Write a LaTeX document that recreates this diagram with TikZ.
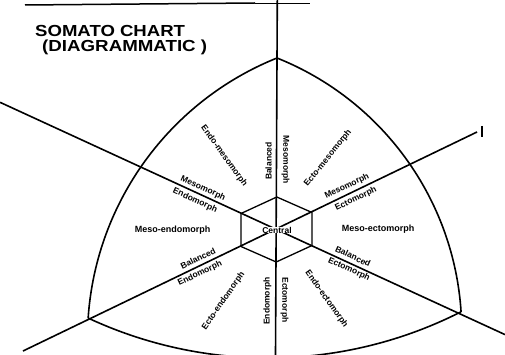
\documentclass[tikz,border=0pt]{standalone}
\usepackage{fontspec}
\setmainfont{Liberation Sans}
\begin{document}
\begin{tikzpicture}[x=1pt,y=-1pt,
  axis/.style={line width=1.6pt},
  rim/.style={line width=1.6pt},
  hexline/.style={line width=1.3pt},
  lab/.style={font=\fontsize{8.5}{9}\selectfont\bfseries, inner sep=0.3pt},
  hlab/.style={font=\fontsize{9}{10}\selectfont\bfseries, inner sep=0.3pt},
  ttl/.style={font=\fontsize{16}{18}\selectfont\bfseries, anchor=west, inner sep=0pt}]
\useasboundingbox (0,0) rectangle (505,355);
% scan edge line at top
\coordinate (e1) at (25,5);
\coordinate (e2) at (255,3);
\coordinate (e3) at (310,3);
\draw[line width=1.5pt] (e1) -- (e2);
\draw[line width=0.6pt] (e2) -- (e3);
% axes
\coordinate (vt) at (277.3,0);
\coordinate (vb) at (275.5,355);
\coordinate (l1a) at (0,102.3);
\coordinate (l1b) at (505,334.6);
\coordinate (l2a) at (23,351);
\coordinate (l2b) at (477,132);
\draw[axis] (vt) -- (vb);
\draw[axis] (l1a) -- (l1b);
\draw[axis] (l2a) -- (l2b);
% tick at end
\coordinate (t1) at (482,126);
\coordinate (t2) at (482,137);
\draw[line width=1.2pt] (t1) -- (t2);
% Reuleaux-like outline
\coordinate (top) at (277,58);
\coordinate (bl) at (88,318);
\coordinate (br) at (461,312);
\draw[rim] (top) arc[start angle=248.1, end angle=183.9, radius=302.3];
\draw[rim] (top) arc[start angle=-68.2, end angle=-3.7, radius=293.8];
\draw[rim] (bl) arc[start angle=115.0, end angle=63.1, radius=426.3];
% hexagon
\coordinate (h1) at (276.8,197);
\coordinate (h2) at (312,212.5);
\coordinate (h3) at (312,245.5);
\coordinate (h4) at (276.2,262);
\coordinate (h5) at (241,246.5);
\coordinate (h6) at (241,213.5);
\draw[hexline] (h1) -- (h2) -- (h3) -- (h4) -- (h5) -- (h6) -- cycle;
\node[lab, fill=white] (central) at (277,230) {Central};
% vertical axis labels
\node[lab, rotate=90] (balT) at (268.5,161) {Balanced};
\node[lab, rotate=-90] (mesT) at (285.5,160) {Mesomorph};
\node[lab, rotate=90] (endB) at (267.5,301) {Endomorph};
\node[lab, rotate=-90] (ectB) at (284.5,300) {Ectomorph};
% labels along line 1 (upper left)
\node[lab, rotate=-24.7] (mesUL) at (203,188.5) {Mesomorph};
\node[lab, rotate=-24.7] (endUL) at (195,200.5) {Endomorph};
% labels along line 2 (upper right)
\node[lab, rotate=25.7] (mesUR) at (347,186.5) {Mesomorph};
\node[lab, rotate=25.7] (ectUR) at (356,199) {Ectomorph};
% labels along line 2 (lower left)
\node[lab, rotate=25.7] (balLL) at (198,258.5) {Balanced};
\node[lab, rotate=25.7] (endLL) at (200,273.5) {Endomorph};
% labels along line 1 (lower right)
\node[lab, rotate=-24.7] (balLR) at (353,256.5) {Balanced};
\node[lab, rotate=-24.7] (ectLR) at (349,269.5) {Ectomorph};
% sector labels
\node[lab, rotate=-54] (s1) at (224,156) {Endo-mesomorph};
\node[lab, rotate=51] (s2) at (328,158) {Ecto-mesomorph};
\node[hlab] (s3) at (172.5,230.5) {Meso-endomorph};
\node[hlab] (s4) at (378,229) {Meso-ectomorph};
\node[lab, rotate=55] (s5) at (223.5,301) {Ecto-endomorph};
\node[lab, rotate=-55] (s6) at (326.5,299) {Endo-ectomorph};
% title
\node[ttl] (title1) at (35,31) {\scalebox{1.16}[1]{SOMATO CHART}};
\node[ttl] (title2) at (42,47) {\scalebox{1.17}[1]{(DIAGRAMMATIC )}};
\end{tikzpicture}
\end{document}
